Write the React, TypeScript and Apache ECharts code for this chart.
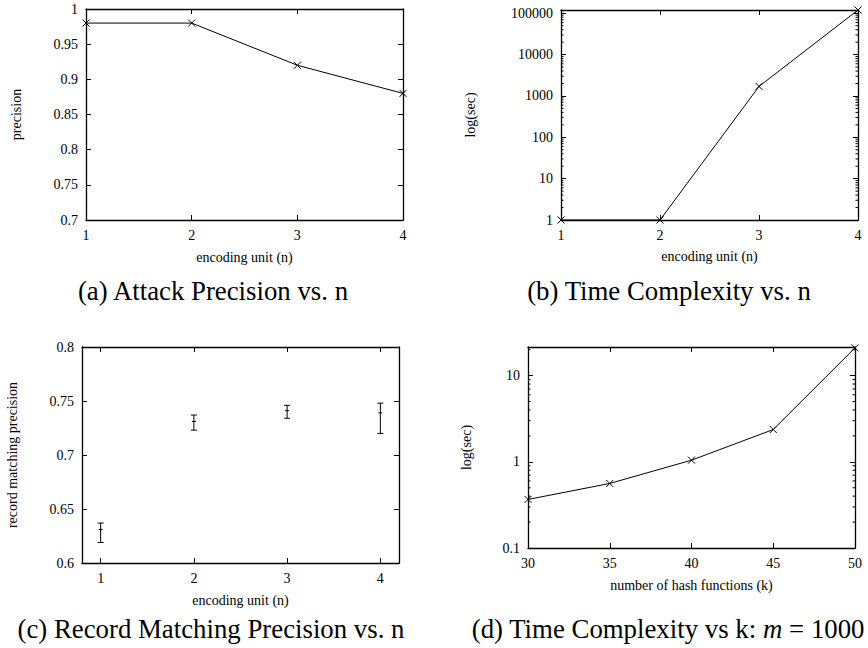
import React, { useEffect, useRef } from 'react';
import * as echarts from 'echarts';

const FONT = 'Liberation Serif';

// (a) Attack Precision vs. n
const aN = [1, 2, 3, 4];
const aPrecision = [0.98, 0.98, 0.92, 0.88];

// (b) Time Complexity vs. n
const bN = [1, 2, 3, 4];
const bTime = [1, 1, 1700, 120000];

// (c) Record Matching Precision vs. n
const cN = [1, 2, 3, 4];
const cMean = [0.631, 0.731, 0.741, 0.739];
const cLow = [0.619, 0.723, 0.734, 0.72];
const cHigh = [0.637, 0.737, 0.746, 0.748];

// (d) Time Complexity vs k
const dK = [30, 35, 40, 45, 50];
const dTime = [0.366, 0.561, 1.045, 2.37, 21];

// tick labels
const nTicks = [1, 2, 3, 4];
const bDecades = [1, 10, 100, 1000, 10000];
const dDecades = [0.1, 1, 10];
const minorMult = [2, 3, 4, 5, 6, 7, 8, 9];

const captions = [
  { text: '(a) Attack Precision vs. n', x: 213, y: 291, rich: false },
  { text: '(b) Time Complexity vs. n', x: 669, y: 291, rich: false },
  { text: '(c) Record Matching Precision vs. n', x: 211, y: 629, rich: false },
  { text: '(d) Time Complexity vs k: {i|m} = 1000', x: 668, y: 629, rich: true },
];

const axisLine = { show: true, onZero: false, lineStyle: { color: '#000', width: 1.3 } };
const axisTick = { show: true, inside: true, length: 5, lineStyle: { color: '#000', width: 1 } };
const labelStyle = { color: '#000', fontFamily: FONT, fontSize: 14, margin: 8 };
const nameStyle = { color: '#000', fontFamily: FONT, fontSize: 14 };
const logFmt = (v: number) => String(parseFloat(Number(v).toPrecision(6)));

function xPair(grid: number, cfg: any, name: string, nameGap: number) {
  const { tickCustom, ...rest } = cfg;
  const custom = tickCustom ? { customValues: tickCustom } : {};
  const base = { type: 'value', gridIndex: grid, splitLine: { show: false }, axisLine, ...rest };
  return [
    {
      ...base,
      position: 'bottom',
      name,
      nameLocation: 'middle',
      nameGap,
      nameTextStyle: nameStyle,
      axisTick: { ...axisTick, ...custom },
      axisLabel: { ...labelStyle, ...custom },
    },
    {
      ...base,
      position: 'top',
      axisTick: { ...axisTick, ...custom },
      axisLabel: { show: false },
    },
  ];
}

function yPair(grid: number, cfg: any, name: string, nameGap: number, log = false) {
  const base: any = {
    type: log ? 'log' : 'value',
    gridIndex: grid,
    splitLine: { show: false },
    minorSplitLine: { show: false },
    axisLine,
    ...cfg,
  };
  if (log) base.logBase = 10;
  return [
    {
      ...base,
      position: 'left',
      name,
      nameLocation: 'middle',
      nameGap,
      nameTextStyle: nameStyle,
      axisTick,
      axisLabel: log ? { ...labelStyle, formatter: logFmt, showMaxLabel: false } : labelStyle,
    },
    { ...base, position: 'right', axisTick, axisLabel: { show: false } },
  ];
}

const xMarker = 'path://M0,0L10,10M10,0L0,10';

function lineSeries(axisIdx: number, xs: number[], ys: number[]) {
  return {
    type: 'line',
    xAxisIndex: axisIdx,
    yAxisIndex: axisIdx,
    data: xs.map((x, i) => [x, ys[i]]),
    symbol: xMarker,
    symbolSize: 7,
    showSymbol: true,
    clip: false,
    lineStyle: { color: '#000', width: 1 },
    itemStyle: { color: '#000', borderColor: '#000', borderWidth: 1 },
    z: 5,
  };
}

function minorSeries(axisIdx: number, decades: number[], xMin: number, xMax: number, yMax: number) {
  const vals: number[] = [];
  decades.forEach((d) => minorMult.forEach((m) => { if (d * m < yMax) vals.push(d * m); }));
  return {
    type: 'custom',
    xAxisIndex: axisIdx,
    yAxisIndex: axisIdx,
    silent: true,
    data: vals.map((v) => [xMin, v]),
    renderItem: (params: any, api: any) => {
      const y = api.value(1);
      const l = api.coord([xMin, y]);
      const r = api.coord([xMax, y]);
      const style = { stroke: '#000', lineWidth: 1 };
      return {
        type: 'group',
        children: [
          { type: 'line', shape: { x1: l[0], y1: l[1], x2: l[0] + 2.5, y2: l[1] }, style },
          { type: 'line', shape: { x1: r[0] - 2.5, y1: r[1], x2: r[0], y2: r[1] }, style },
        ],
      };
    },
  };
}

function errorSeries(axisIdx: number) {
  return {
    type: 'custom',
    xAxisIndex: axisIdx,
    yAxisIndex: axisIdx,
    data: cN.map((n, i) => [n, cMean[i], cLow[i], cHigh[i]]),
    encode: { x: 0, y: [1, 2, 3] },
    renderItem: (params: any, api: any) => {
      const x = api.value(0);
      const pM = api.coord([x, api.value(1)]);
      const pLo = api.coord([x, api.value(2)]);
      const pHi = api.coord([x, api.value(3)]);
      const style = { stroke: '#000', lineWidth: 1 };
      return {
        type: 'group',
        children: [
          { type: 'line', shape: { x1: pLo[0], y1: pLo[1], x2: pHi[0], y2: pHi[1] }, style },
          { type: 'line', shape: { x1: pLo[0] - 3, y1: pLo[1], x2: pLo[0] + 3, y2: pLo[1] }, style },
          { type: 'line', shape: { x1: pHi[0] - 3, y1: pHi[1], x2: pHi[0] + 3, y2: pHi[1] }, style },
          { type: 'line', shape: { x1: pM[0] - 2, y1: pM[1], x2: pM[0] + 2, y2: pM[1] }, style },
        ],
      };
    },
  };
}

const CAP_SIZE = 26.8;

const option: any = {
  animation: false,
  backgroundColor: '#fff',
  title: captions.map((c) => ({
    text: c.text,
    left: c.x,
    top: c.y,
    padding: 0,
    textAlign: 'center',
    textVerticalAlign: 'middle',
    textStyle: {
      fontFamily: FONT,
      fontSize: CAP_SIZE,
      fontWeight: 'normal',
      color: '#000',
      ...(c.rich
        ? { rich: { i: { fontFamily: FONT, fontSize: CAP_SIZE, fontStyle: 'italic', color: '#000' } } }
        : {}),
    },
  })),
  grid: [
    { left: 86, top: 9, width: 317, height: 211, outerBoundsMode: 'none' },
    { left: 561, top: 10, width: 297, height: 210, outerBoundsMode: 'none' },
    { left: 82, top: 347, width: 317, height: 216, outerBoundsMode: 'none' },
    { left: 528, top: 347, width: 327, height: 201, outerBoundsMode: 'none' },
  ],
  xAxis: [
    ...xPair(0, { min: 1, max: 4, interval: 1 }, 'encoding unit (n)', 30),
    ...xPair(1, { min: 1, max: 4, interval: 1 }, 'encoding unit (n)', 29),
    ...xPair(2, { min: 0.8, max: 4.2, tickCustom: nTicks }, 'encoding unit (n)', 30),
    ...xPair(3, { min: 30, max: 50, interval: 5 }, 'number of hash functions (k)', 30),
  ],
  yAxis: [
    ...yPair(0, { min: 0.7, max: 1, interval: 0.05 }, 'precision', 63),
    ...yPair(1, { min: 1, max: 120000 }, 'log(sec)', 84, true),
    ...yPair(2, { min: 0.6, max: 0.8, interval: 0.05 }, 'record matching precision', 63),
    ...yPair(3, { min: 0.1, max: 21.5 }, 'log(sec)', 55, true),
  ],
  series: [
    lineSeries(0, aN, aPrecision),
    lineSeries(2, bN, bTime),
    minorSeries(2, bDecades, 1, 4, 120000),
    errorSeries(4),
    lineSeries(6, dK, dTime),
    minorSeries(6, dDecades, 30, 50, 21.5),
  ],
};

export default function App() {
  const ref = useRef<HTMLDivElement>(null);
  useEffect(() => {
    document.body.style.margin = '0';
    const chart = echarts.init(ref.current!, null, { renderer: 'svg' });
    chart.setOption(option);
    return () => chart.dispose();
  }, []);
  return <div ref={ref} style={{ width: 868, height: 648, background: '#fff' }} />;
}
